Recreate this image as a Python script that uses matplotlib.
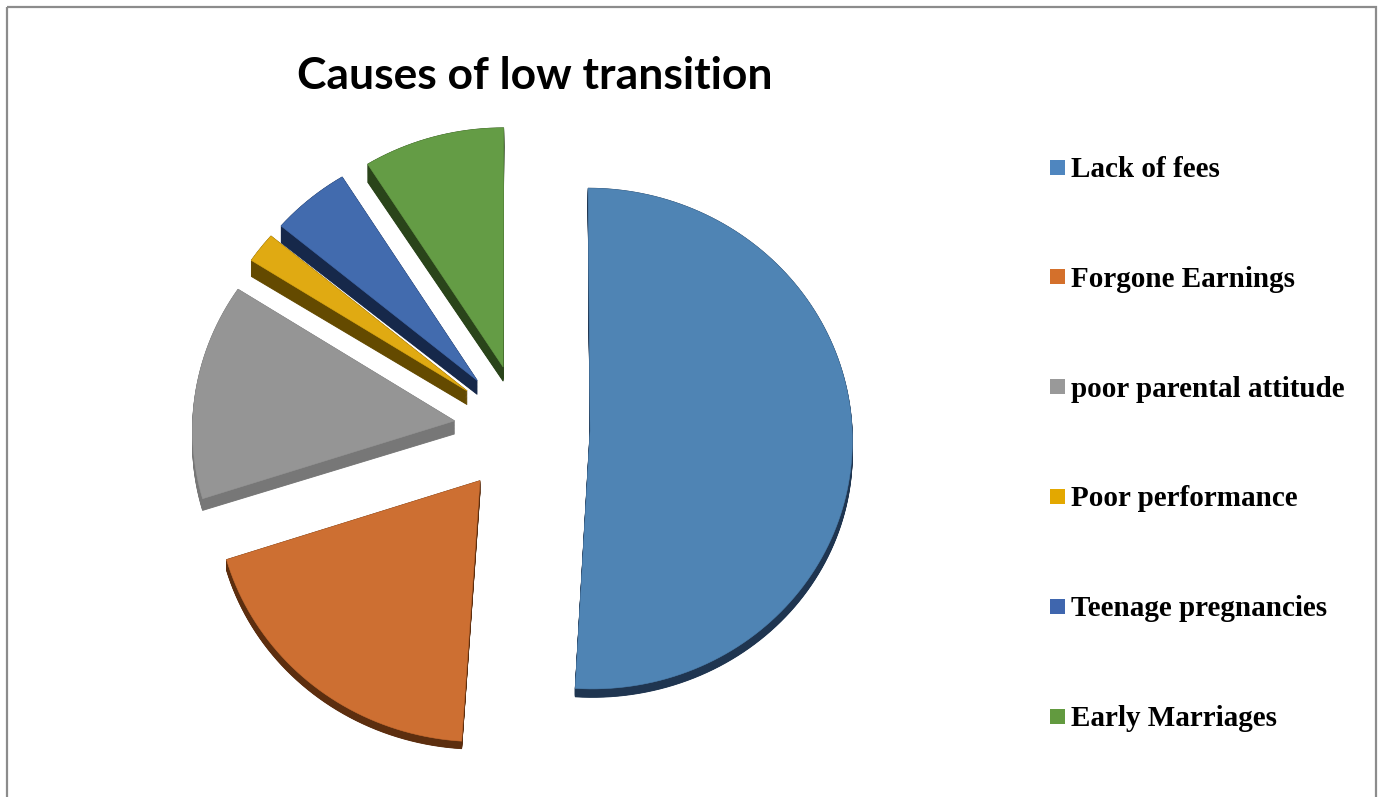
import numpy as np
import matplotlib
matplotlib.use("Agg")
import matplotlib.pyplot as plt
from matplotlib.patches import Polygon, Rectangle

# ---- data -------------------------------------------------------------
categories = ["Lack of fees", "Forgone Earnings", "poor parental attitude",
              "Poor performance", "Teenage pregnancies", "Early Marriages"]
shares = [51, 19, 14, 2, 5, 9]

top_colors = ["#4F84B4", "#CD6F32", "#959595", "#E0AA12", "#426BAE", "#649C45"]
side_colors = ["#1F3550", "#5C2E0F", "#777777", "#644A00", "#16284A", "#2A441A"]
legend_colors = ["#4F86BF", "#D4702B", "#999999", "#E3A800", "#3F66AE", "#629A3F"]

title = "Causes of low transition"

# ---- canvas in pixel units -------------------------------------------
W, H = 1383, 797
fig = plt.figure(figsize=(W / 100, H / 100), dpi=100)
ax = fig.add_axes([0, 0, 1, 1])
ax.set_xlim(0, W)
ax.set_ylim(H, 0)
ax.axis("off")

# chart-area frame (open at the bottom)
ax.add_patch(Rectangle((7, 7), W - 14, H + 50, fill=False,
                       edgecolor="#8C8C8C", linewidth=1.6))

# ---- 3D exploded pie -------------------------------------------------
cx, cy = 522, 429          # centre of the pie on screen
rx, ry = 262, 250          # radii at the middle depth
tilt = 0.03                # perspective: far side slightly smaller
explode = 0.26             # radial offset of every slice (fraction of radius)


def project(u, v):
    s = 1.0 / (1.0 + tilt * v)
    return cx + u * s * rx, cy - v * s * ry


def thickness(v):
    # visible height of the slice wall in pixels
    return 13.0 + 4.5 * v


fractions = np.asarray(shares, dtype=float) / np.sum(shares)
edges = np.concatenate([[0.0], np.cumsum(fractions)]) * 2 * np.pi

slices = []
for i in range(len(shares)):
    a0, a1 = edges[i], edges[i + 1]
    mid = 0.5 * (a0 + a1)
    n = max(4, int(np.degrees(a1 - a0) / 1.5))
    th = np.linspace(a0, a1, n)
    u = np.concatenate([[0.0], np.sin(th)]) + explode * np.sin(mid)
    v = np.concatenate([[0.0], np.cos(th)]) + explode * np.cos(mid)
    x, y = project(u, v)
    slices.append((x, y, thickness(v)))

# walls first
for (x, y, d), col in zip(slices, side_colors):
    for t in np.linspace(1.0, 0.0, 18):
        ax.add_patch(Polygon(np.column_stack([x, y + t * d]), closed=True,
                             facecolor=col, edgecolor=col, linewidth=0.6))

# top faces
for (x, y, d), col in zip(slices, top_colors):
    ax.add_patch(Polygon(np.column_stack([x, y]), closed=True,
                         facecolor=col, edgecolor=col, linewidth=0.4))

# ---- title -----------------------------------------------------------
ttl = ax.text(534.5, 89, title, ha="center", va="baseline",
              fontfamily="Lato", fontweight="bold", fontsize=32, color="black")
fig.canvas.draw()
bb = ttl.get_window_extent()
ttl.set_fontsize(32 * 475.0 / bb.width)

# ---- legend ----------------------------------------------------------
first_y, step = 167.0, 109.8
for i, (lab, col) in enumerate(zip(categories, legend_colors)):
    yc = first_y + i * step
    ax.add_patch(Rectangle((1050, yc - 7.5), 15, 15, facecolor=col,
                           edgecolor="none"))
    ax.text(1071, yc + 10, lab, ha="left", va="baseline",
            fontfamily="Liberation Serif", fontweight="bold", fontsize=21,
            color="black")

fig.savefig("out.png", dpi=100, facecolor="white")
